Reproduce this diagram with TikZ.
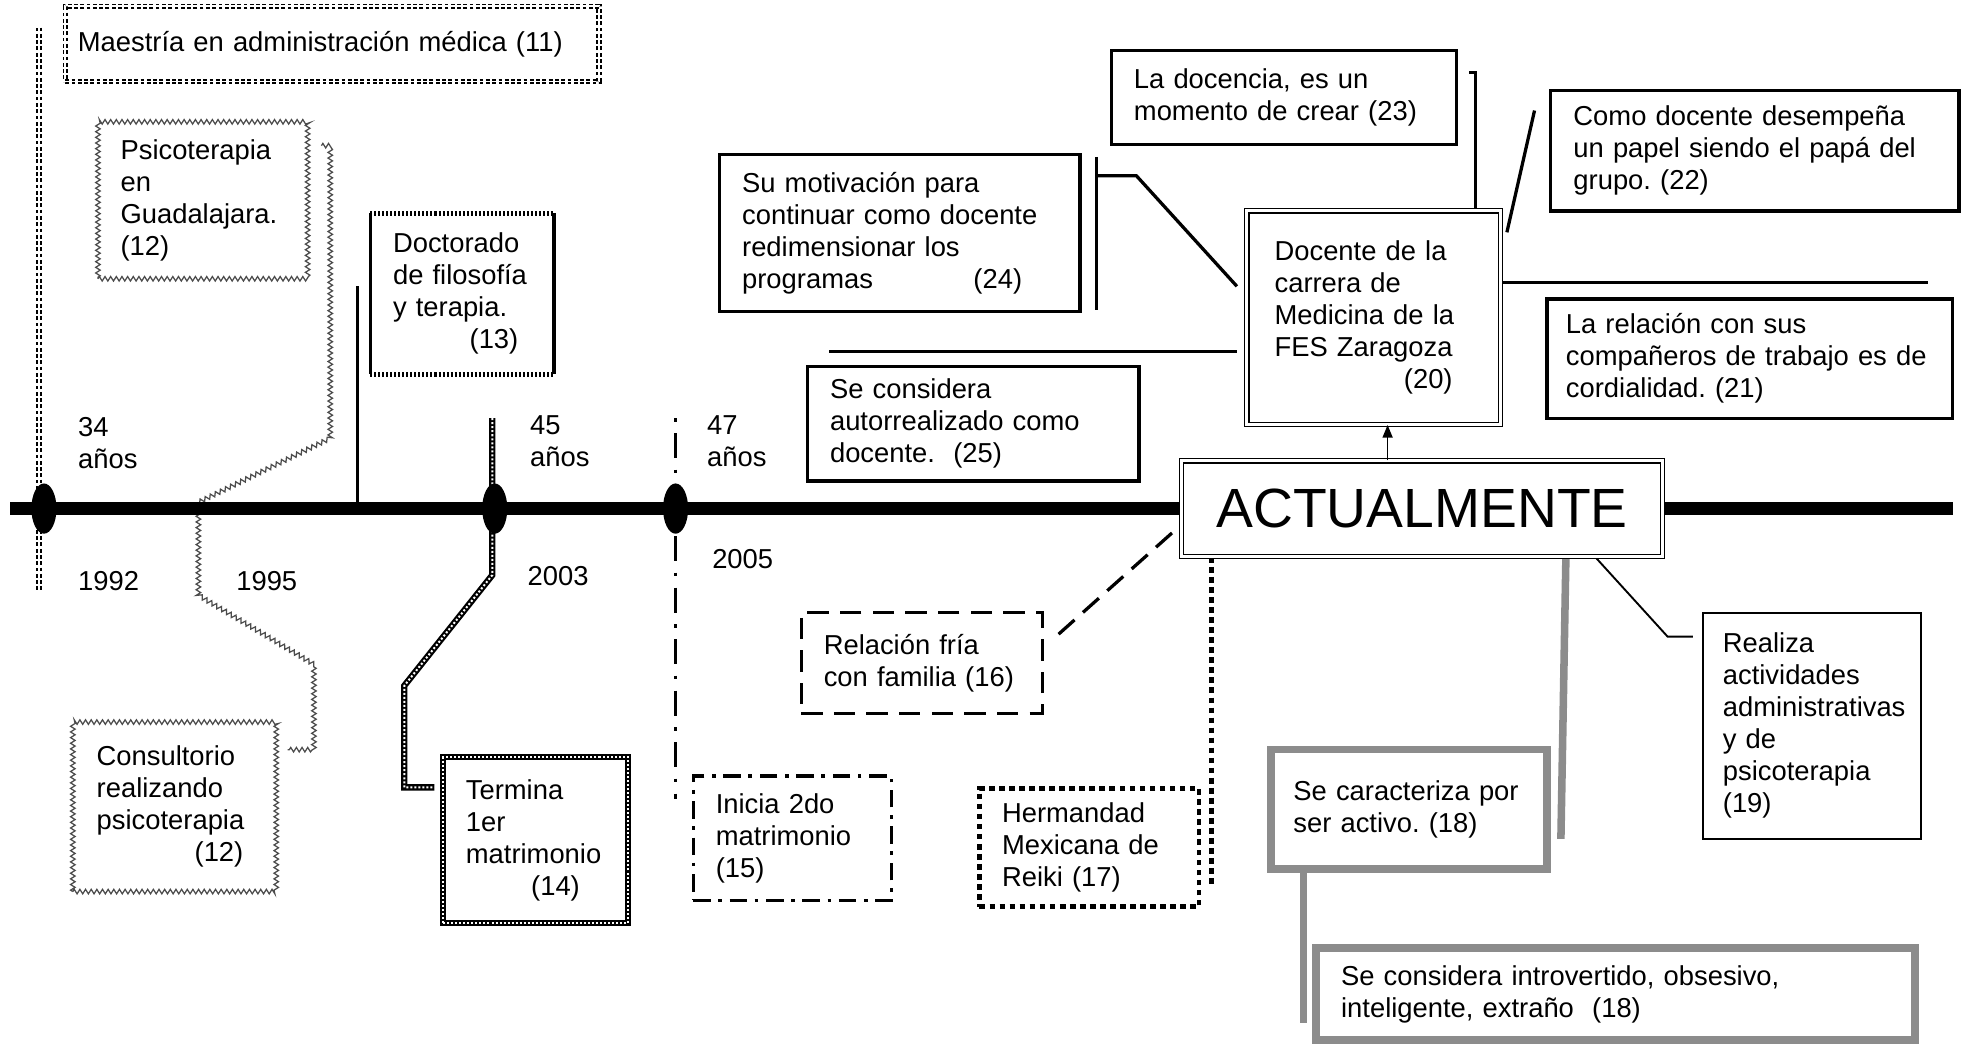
\documentclass[tikz,border=0pt]{standalone}
\usepackage{fontspec}
\setmainfont{Liberation Sans}
\frenchspacing
\usetikzlibrary{shapes.geometric,decorations.pathmorphing,arrows.meta,backgrounds}
\begin{document}
\begin{tikzpicture}[x=1pt,y=-1pt,
  every node/.style={font=\fontsize{21.8}{25.5}\selectfont\frenchspacing},
  box/.style={rectangle, align=left, inner xsep=18pt, inner ysep=0pt, fill=white},
  plainb/.style={box, draw, line width=2.6pt},
  thinb/.style={box, draw, line width=1.6pt},
  dblb/.style={box, draw, line width=0.9pt, double, double distance=2.4pt},
  maestb/.style={box, draw, line width=1.5pt, double, double distance=1.3pt, dash pattern=on 3pt off 2pt},
  maestl/.style={draw, line width=1.5pt, double, double distance=1.3pt, dash pattern=on 3pt off 2pt},
  zigb/.style={box, draw=black!70, line width=1pt, decorate, decoration={zigzag, segment length=4.5pt, amplitude=1.8pt}},
  zigl/.style={draw=black!70, line width=1pt, decorate, decoration={zigzag, segment length=4.5pt, amplitude=1.8pt}},
  checkb/.style={box, draw, line width=5pt, postaction={draw=white, fill=none, line width=1.6pt, dash pattern=on 1.6pt off 1.6pt}},
  checkl/.style={draw, line width=5pt, line join=miter, postaction={draw=white, line width=1.6pt, dash pattern=on 1.6pt off 1.6pt}},
  dashdotb/.style={box, draw, line width=2.6pt, dash pattern=on 14pt off 6pt on 3pt off 6pt},
  dashdotl/.style={draw, line width=2.2pt, dash pattern=on 3pt off 9pt on 20pt off 9pt},
  dashb/.style={box, draw, line width=2.6pt, dash pattern=on 17pt off 9pt},
  dashl/.style={draw, line width=2.6pt, dash pattern=on 17pt off 9pt},
  sqdotb/.style={box, draw, line width=3.5pt, dash pattern=on 4.5pt off 3.5pt},
  sqdotl/.style={draw, line width=4pt, dash pattern=on 4.5pt off 3.5pt},
  grayb/.style={box, draw=black!45, line width=6pt},
  grayl/.style={draw=black!45, line width=6pt},
  ticksl/.style={draw, line width=4pt, dash pattern=on 1.6pt off 1.6pt},
  conn/.style={draw, line width=2.6pt},
  dot/.style={ellipse, fill, minimum width=20pt, minimum height=40pt, inner sep=0pt},
  lab/.style={align=left, inner sep=0pt}
]
\useasboundingbox (0,0) rectangle (1568,833);

% ---------- boxes ----------
\node[maestb, minimum width=425pt, minimum height=60pt, text width=405pt, inner xsep=10pt] (mae) at (264.5,35) {Maestría en administración médica (11)};
\node[zigb, minimum width=167pt, minimum height=125pt, text width=131pt] (psi) at (161.5,159.5) {Psicoterapia\\en\\Guadalajara.\\(12)};
\node[zigb, minimum width=162pt, minimum height=135pt, text width=124pt, inner xsep=19pt] (con) at (139,642.5) {Consultorio\\realizando\\psicoterapia\\\hspace*{78pt}(12)};
\node[box, minimum width=146pt, minimum height=128pt, text width=110pt] (docto) at (368,234) {Doctorado\\de filosofía\\y terapia.\\\hspace*{61pt}(13)};
\node[checkb, minimum width=147pt, minimum height=132pt, text width=111pt] (ter) at (426.5,669) {Termina\\1er\\matrimonio\\\hspace*{52pt}(14)};
\node[dashdotb, minimum width=158pt, minimum height=99pt, text width=122pt] (ini) at (631,667.5) {Inicia 2do\\matrimonio\\(15)};
\node[dashb, minimum width=192pt, minimum height=80pt, text width=156pt] (rel) at (734,528) {Relación fría\\con familia (16)};
\node[sqdotb, minimum width=175pt, minimum height=94pt, text width=139pt] (her) at (867.5,675) {Hermandad\\Mexicana de\\Reiki (17)};
\node[plainb, minimum width=264pt, minimum height=91pt, text width=228pt] (aut) at (775,337.5) {Se considera\\autorrealizado como\\docente.\ \ (25)};
\node[plainb, minimum width=287pt, minimum height=125pt, text width=251pt] (mot) at (716.5,185.5) {Su motivación para\\continuar como docente\\redimensionar los\\programas\hspace{80pt}(24)};
\node[plainb, minimum width=275pt, minimum height=75pt, text width=239pt] (ldo) at (1022.5,77.5) {La docencia, es un\\momento de crear (23)};
\node[dblb, minimum width=202pt, minimum height=170pt, text width=158pt, inner xsep=22pt] (doc) at (1094,253) {Docente de la\\carrera de\\Medicina de la\\FES Zaragoza\\\hspace*{103pt}(20)};
\node[plainb, minimum width=325pt, minimum height=96pt, text width=289pt] (com) at (1397.5,120) {Como docente desempeña\\un papel siendo el papá del\\grupo. (22)};
\node[plainb, minimum width=323pt, minimum height=95pt, text width=293pt, inner xsep=15pt] (lar) at (1393.5,285.5) {La relación con sus\\compañeros de trabajo es de\\cordialidad. (21)};
\node[thinb, minimum width=174pt, minimum height=180pt, text width=142pt, inner xsep=16pt] (rea) at (1443,578) {Realiza\\actividades\\administrativas\\y de\\psicoterapia\\(19)};
\node[grayb, minimum width=220pt, minimum height=95pt, text width=184pt] (car) at (1122,644.5) {Se caracteriza por\\ser activo. (18)};
\node[grayb, minimum width=477pt, minimum height=73pt, text width=437pt, inner xsep=20pt] (int) at (1286.5,791.5) {Se considera introvertido, obsesivo,\\inteligente, extraño\ \ (18)};
\node[dblb, minimum width=383pt, minimum height=76pt, align=center, font=\fontsize{44}{50}\selectfont] (act) at (1132.5,405) {ACTUALMENTE};

% Doctorado border
\draw[line width=2.6pt] (docto.north west) -- (docto.south west);
\draw[line width=2.6pt] (docto.north east) -- (docto.south east);
\draw[ticksl] (docto.north west) -- (docto.north east);
\draw[ticksl] (docto.south west) -- (docto.south east);

% ---------- labels ----------
\node[lab, anchor=west] (a34) at (62,353) {34\\años};
\node[lab, anchor=west] (a45) at (422,351) {45\\años};
\node[lab, anchor=west] (a47) at (563,351) {47\\años};
\node[lab, anchor=west] (y1992) at (62,463) {1992};
\node[lab, anchor=west] (y1995) at (188,463) {1995};
\node[lab, anchor=west] (y2003) at (420,459) {2003};
\node[lab, anchor=west] (y2005) at (567,445) {2005};

% ---------- coordinates ----------
\coordinate (m1) at (31,22);   \coordinate (m2) at (31,470);
\coordinate (p0) at (256,116); \coordinate (p1) at (229,597);
\coordinate (d1) at (285,228); \coordinate (d2) at (285,405);
\coordinate (t0) at (392,333); \coordinate (t1) at (346,627);
\coordinate (i0) at (538,333); \coordinate (i1) at (538,636);
\coordinate (r0) at (843,505); \coordinate (r1) at (936,422);
\coordinate (hx) at (965,0);   \coordinate (h1) at (965,706);
\coordinate (ax) at (1105,0);
\coordinate (lx) at (1175,0);
\coordinate (mt) at (873,125); \coordinate (mb) at (873,247);
\coordinate (s1) at (985,280); \coordinate (s0) at (660,280);
\coordinate (c0) at (1200,185); \coordinate (c1) at (1222,88);
\coordinate (q1) at (1535,225);
\coordinate (w0) at (1268,441); \coordinate (w1) at (1348,507);
\coordinate (g0) at (1247,443); \coordinate (g1) at (1243,668);
\coordinate (k0) at (1038,692); \coordinate (k1) at (1038,815);
\coordinate (tl0) at (8,405);  \coordinate (tl1) at (1555,405);

\begin{pgfonlayer}{background}
% connectors
\draw[maestl] (m1) -- (m2);
\draw[zigl] (p0) -- (263,116) -- (263,349) -- (158,400) -- (158,474) -- (250,529) -- (250,597) -- (p1);
\draw[line width=2.4pt] (d1) -- (d2);
\draw[checkl] (t0) -- (392,458) -- (322,546) -- (322,627) -- (t1);
\draw[dashdotl] (i0) -- (i1);
\draw[dashl] (r0) -- (r1);
\draw[sqdotl] (act.south -| hx) -- (h1);
\draw[conn] (doc.north -| lx) -- (1175,58) -- (1170,58);
\draw[conn] (985,228) -- (905,140) -- (mt |- 0,140);
\draw[conn] (mt) -- (mb);
\draw[conn] (s1) -- (s0);
\draw[conn] (c0) -- (c1);
\draw[line width=2pt] (doc.east |- 0,225) -- (q1);
\draw[line width=1.5pt] (w0) -- (1328,507) -- (w1);
\draw[grayl] (g0) -- (g1);
\draw[grayl] (k0) -- (k1);
% timeline
\draw[line width=10pt] (tl0) -- (tl1);
\node[dot] (e1) at (35,405) {};
\node[dot] (e2) at (394,405) {};
\node[dot] (e3) at (538,405) {};
\end{pgfonlayer}

\draw[line width=1pt, -{Triangle[length=10pt,width=8pt]}] (act.north -| ax) -- (doc.south -| ax);
\end{tikzpicture}
\end{document}
